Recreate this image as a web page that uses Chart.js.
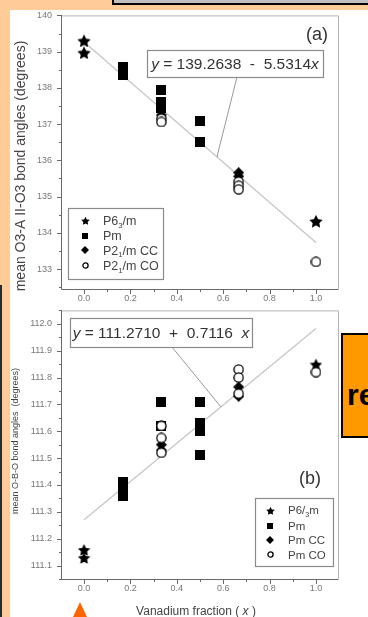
<!DOCTYPE html>
<html>
<head>
<meta charset="utf-8">
<script src="https://cdn.jsdelivr.net/npm/chart.js@4/dist/chart.umd.min.js"></script>
<style>
  html, body { margin: 0; padding: 0; }
  body {
    width: 368px; height: 617px; position: relative; overflow: hidden;
    background: #FFCC99;
    font-family: "Liberation Sans", Arial, Helvetica, sans-serif;
  }
  #sheet { position: absolute; left: 10px; top: 10px; right: 0; bottom: 0; background: #fff; }
  #edge { position: absolute; left: 0; top: 285px; width: 2px; bottom: 0; background: #2a2a2a; }
  #topbar {
    position: absolute; left: 112px; top: -10px; width: 300px; height: 11px;
    background: #c0c0c0; border: 2px solid #000;
  }
  #note {
    position: absolute; left: 341px; top: 333px; width: 60px; height: 101px;
    background: #FF9900; border: 2px solid #000;
  }
  #note span {
    position: absolute; left: 4px; top: 45px;
    font-weight: bold; font-size: 30px; line-height: 30px; color: #000;
  }
  #tri {
    position: absolute; left: 73px; top: 602px; width: 0; height: 0;
    border-left: 7px solid transparent; border-right: 7px solid transparent;
    border-bottom: 15px solid #FF6600;
  }
  canvas { position: absolute; left: 0; }
  #chartA { top: 0; }
  #chartB { top: 295px; }
</style>
</head>
<body>
<div id="sheet"></div>
<div id="edge"></div>
<canvas id="chartA" width="368" height="305"></canvas>
<canvas id="chartB" width="368" height="322"></canvas>
<div id="note"><span>re</span></div>
<div id="topbar"></div>
<div id="tri"></div>

<script>
// ---------------- data ----------------
const xTickValues = [0, 0.2, 0.4, 0.6, 0.8, 1.0];
const xMinorValues = [0.1, 0.3, 0.5, 0.7, 0.9];

// Panel (a): mean O3-A II-O3 bond angles (degrees)
const yTicksA = [133, 134, 135, 136, 137, 138, 139, 140];
const yMinorA = [132.5, 133.5, 134.5, 135.5, 136.5, 137.5, 138.5, 139.5];
const starA_x = [0, 0, 1];
const starA_y = [139.31, 138.98, 134.33];
const pmA_x = [1/6, 1/6, 1/6, 1/3, 1/3, 1/3, 0.5, 0.5];
const pmA_y = [138.58, 138.47, 138.36, 137.93, 137.60, 137.44, 137.08, 136.51];
const ccA_x = [1/3, 2/3, 2/3];
const ccA_y = [137.25, 135.66, 135.56];
const coA_x = [1/3, 1/3, 2/3, 2/3, 2/3, 1];
const coA_y = [137.15, 137.06, 135.41, 135.30, 135.20, 133.20];
const fitA = [139.2638, -5.5314];

// Panel (b): mean O-B-O bond angles (degrees)
const yTicksB = [111.1, 111.2, 111.3, 111.4, 111.5, 111.6, 111.7, 111.8, 111.9, 112.0];
const yMinorB = [111.05, 111.15, 111.25, 111.35, 111.45, 111.55, 111.65, 111.75, 111.85, 111.95, 112.05];
const starB_x = [0, 0, 1];
const starB_y = [111.16, 111.13, 111.85];
const pmB_x = [1/6, 1/6, 1/6, 1/3, 1/3, 0.5, 0.5, 0.5, 0.5];
const pmB_y = [111.41, 111.38, 111.36, 111.71, 111.62, 111.71, 111.63, 111.60, 111.51];
const ccB_x = [1/3, 1/3, 2/3, 2/3];
const ccB_y = [111.55, 111.53, 111.765, 111.73];
const coB_x = [1/3, 1/3, 1/3, 2/3, 2/3, 2/3, 1];
const coB_y = [111.62, 111.575, 111.52, 111.83, 111.80, 111.74, 111.82];
const fitB = [111.2710, 0.7116];

// ---------------- helpers ----------------
const FONT = '"Liberation Sans", Arial, Helvetica, sans-serif';

function pts(xs, ys) { return xs.map((x, i) => ({ x: x, y: ys[i] })); }
function fitLine(c) { return [{ x: 0, y: c[0] }, { x: 1, y: c[0] + c[1] }]; }

// marker sprites: filled star, filled square, filled diamond, open circle
function marker(kind, s) {
  const c = document.createElement('canvas');
  c.width = s; c.height = s;
  const g = c.getContext('2d');
  const m = s / 2;
  g.fillStyle = '#000'; g.strokeStyle = '#000';
  if (kind === 'star') {
    const R = s / 2, r = R * 0.5;
    g.beginPath();
    for (let i = 0; i < 10; i++) {
      const ang = -Math.PI / 2 + i * Math.PI / 5;
      const rr = i % 2 ? r : R;
      g.lineTo(m + rr * Math.cos(ang), m + 0.08 * s + rr * Math.sin(ang));
    }
    g.closePath(); g.fill();
  } else if (kind === 'square') {
    g.fillRect(0, 0, s, s);
  } else if (kind === 'diamond') {
    g.beginPath(); g.moveTo(m, 0); g.lineTo(s, m); g.lineTo(m, s); g.lineTo(0, m); g.closePath(); g.fill();
  } else {
    g.beginPath(); g.arc(m, m, m - 0.9, 0, Math.PI * 2);
    g.fillStyle = '#fff'; g.fill();
    g.lineWidth = 1.3; g.stroke();
  }
  return c;
}

const mk = {
  starA: marker('star', 14), squareA: marker('square', 10), diamondA: marker('diamond', 11), circleA: marker('circle', 11),
  starB: marker('star', 13), squareB: marker('square', 10), diamondB: marker('diamond', 11), circleB: marker('circle', 11),
  starL: marker('star', 9), squareL: marker('square', 6), diamondL: marker('diamond', 8), circleL: marker('circle', 7)
};

function setFont(ctx, size, italic, bold) {
  ctx.font = (italic ? 'italic ' : '') + (bold ? 'bold ' : '') + size + 'px ' + FONT;
}
function richWidth(ctx, segs, size) {
  let w = 0;
  for (const s of segs) { setFont(ctx, s.sub ? size * 0.62 : size, s.it); w += ctx.measureText(s.t).width; }
  return w;
}
// draws mixed italic / subscript text, vertically centred on y
function drawRich(ctx, segs, x, y, size, color, align) {
  const w = richWidth(ctx, segs, size);
  let cx = align === 'center' ? x - w / 2 : x;
  const base = y + size * 0.36;
  ctx.fillStyle = color; ctx.textAlign = 'left'; ctx.textBaseline = 'alphabetic';
  for (const s of segs) {
    const fs = s.sub ? size * 0.62 : size;
    setFont(ctx, fs, s.it);
    ctx.fillText(s.t, cx, s.sub ? base + size * 0.22 : base);
    cx += ctx.measureText(s.t).width;
  }
}

function fmtCoef(v) { return Math.abs(v).toFixed(4); }

// frame, tick marks, fit-equation box, legend, panel tag and axis titles
const decorations = {
  id: 'decorations',
  afterDatasetsDraw(chart, args, o) {
    const { ctx, chartArea: a } = chart;
    const xs = chart.scales.x, ys = chart.scales.y;
    ctx.save();
    ctx.lineWidth = 1;

    // plot frame
    ctx.strokeStyle = '#b4b4b4';
    ctx.beginPath();
    ctx.moveTo(a.left, a.top + 0.5); ctx.lineTo(a.right + 0.5, a.top + 0.5); ctx.lineTo(a.right + 0.5, a.bottom);
    ctx.stroke();
    ctx.strokeStyle = '#6a6a6a';
    ctx.beginPath();
    ctx.moveTo(a.left - 0.5, a.top); ctx.lineTo(a.left - 0.5, a.bottom + 0.5); ctx.lineTo(a.right + 0.5, a.bottom + 0.5);
    ctx.stroke();

    // tick marks (outside)
    ctx.beginPath();
    const xt = (v, len) => { const p = Math.round(xs.getPixelForValue(v)) + 0.5; ctx.moveTo(p, a.bottom); ctx.lineTo(p, a.bottom + len); };
    const yt = (v, len) => { const p = Math.round(ys.getPixelForValue(v)) + 0.5; ctx.moveTo(a.left, p); ctx.lineTo(a.left - len, p); };
    xTickValues.forEach(v => xt(v, 5));
    xMinorValues.forEach(v => xt(v, 3));
    o.yMajor.forEach(v => yt(v, 5));
    o.yMinor.forEach(v => { if (v >= ys.min && v <= ys.max) yt(v, 3); });
    ctx.stroke();

    // leader from the equation box to the fitted line
    const e = o.eq;
    const lx = xs.getPixelForValue(e.anchor);
    const ly = ys.getPixelForValue(o.fit[0] + o.fit[1] * e.anchor);
    ctx.strokeStyle = '#8c8c8c'; ctx.lineWidth = 0.9;
    ctx.beginPath(); ctx.moveTo(e.fromX, e.y + e.h); ctx.lineTo(lx, ly); ctx.stroke();

    // equation box
    ctx.fillStyle = '#fff'; ctx.strokeStyle = '#8a8a8a'; ctx.lineWidth = 1.2;
    ctx.fillRect(e.x, e.y, e.w, e.h);
    ctx.strokeRect(e.x + 0.5, e.y + 0.5, e.w, e.h);
    drawRich(ctx, e.segs, e.x + e.w / 2, e.y + e.h / 2, e.size, '#333', 'center');

    // legend
    const L = o.legend;
    ctx.fillStyle = '#fff'; ctx.strokeStyle = '#8a8a8a'; ctx.lineWidth = 1.2;
    ctx.fillRect(L.x, L.y, L.w, L.h);
    ctx.strokeRect(L.x + 0.5, L.y + 0.5, L.w, L.h);
    L.rows.forEach((row, i) => {
      const s = row.sym, cy = L.rowY[i];
      ctx.drawImage(s, Math.round(L.symX - s.width / 2), Math.round(cy - s.height / 2));
      drawRich(ctx, row.segs, L.textX, cy, L.size, '#444', 'left');
    });

    // panel tag
    drawRich(ctx, [{ t: o.tag.text }], o.tag.x, o.tag.y, o.tag.size, '#333', 'center');

    // axis titles
    ctx.save();
    ctx.translate(o.yTitle.x, o.yTitle.y);
    ctx.rotate(-Math.PI / 2);
    drawRich(ctx, o.yTitle.segs, 0, 0, o.yTitle.size, '#444', 'center');
    ctx.restore();
    if (o.xTitle) drawRich(ctx, o.xTitle.segs, o.xTitle.x, o.xTitle.y, o.xTitle.size, '#444', 'center');

    ctx.restore();
  }
};

function makeChart(id, cfg) {
  const datasets = [
    { label: 'fit', data: fitLine(cfg.fit), showLine: true, borderColor: '#c6c6c6', borderWidth: 1.3,
      pointRadius: 0, order: 5 },
    { label: cfg.names[0], data: cfg.series[0], pointStyle: cfg.syms[0], pointRadius: 6, order: 4 },
    { label: cfg.names[1], data: cfg.series[1], pointStyle: cfg.syms[1], pointRadius: 6, order: 3 },
    { label: cfg.names[2], data: cfg.series[2], pointStyle: cfg.syms[2], pointRadius: 6, order: 2 },
    { label: cfg.names[3], data: cfg.series[3], pointStyle: cfg.syms[3], pointRadius: 6, order: 1 }
  ];
  return new Chart(document.getElementById(id), {
    type: 'scatter',
    data: { datasets },
    plugins: [decorations],
    options: {
      responsive: false, animation: false, devicePixelRatio: 1,
      events: [],
      layout: { autoPadding: false, padding: { left: 0, top: cfg.padTop, right: 30, bottom: 0 } },
      plugins: { legend: { display: false }, tooltip: { enabled: false }, decorations: cfg.deco },
      scales: {
        x: {
          type: 'linear', min: -0.095, max: 1.095,
          grid: { display: false, drawTicks: false }, border: { display: false },
          afterBuildTicks: s => { s.ticks = xTickValues.map(v => ({ value: v })); },
          afterFit: s => { s.height = cfg.xHeight; },
          ticks: { callback: v => v.toFixed(1), font: { family: FONT, size: 9 }, color: '#777',
                   padding: 4, maxRotation: 0, autoSkip: false }
        },
        y: {
          type: 'linear', min: cfg.yMin, max: cfg.yMax,
          grid: { display: false, drawTicks: false }, border: { display: false },
          afterBuildTicks: s => { s.ticks = cfg.yTicks.map(v => ({ value: v })); },
          afterFit: s => { s.width = 62; },
          ticks: { callback: v => v.toFixed(cfg.yDec), font: { family: FONT, size: 9 }, color: '#777',
                   padding: 10, autoSkip: false }
        }
      }
    }
  });
}

// ---------------- panel (a) ----------------
makeChart('chartA', {
  fit: fitA, padTop: 15, xHeight: 16, yMin: 132.45, yMax: 140, yTicks: yTicksA, yDec: 0,
  names: ['P6\u2083/m', 'Pm', 'P2\u2081/m CC', 'P2\u2081/m CO'],
  series: [pts(starA_x, starA_y), pts(pmA_x, pmA_y), pts(ccA_x, ccA_y), pts(coA_x, coA_y)],
  syms: [mk.starA, mk.squareA, mk.diamondA, mk.circleA],
  deco: {
    fit: fitA, yMajor: yTicksA, yMinor: yMinorA,
    eq: { x: 147, y: 50, w: 176, h: 27, size: 15.5, anchor: 0.573, fromX: 237,
          segs: [{ t: 'y', it: true }, { t: ' = ' + fitA[0].toFixed(4) + '  ' + (fitA[1] < 0 ? '-' : '+') + '  ' + fmtCoef(fitA[1]) }, { t: 'x', it: true }] },
    legend: { x: 68, y: 208, w: 95, h: 71, symX: 85, textX: 103, size: 12.5,
              rowY: [220.5, 235.5, 250, 265.5],
              rows: [
                { sym: mk.starL, segs: [{ t: 'P6' }, { t: '3', sub: true }, { t: '/m' }] },
                { sym: mk.squareL, segs: [{ t: 'Pm' }] },
                { sym: mk.diamondL, segs: [{ t: 'P2' }, { t: '1', sub: true }, { t: '/m CC' }] },
                { sym: mk.circleL, segs: [{ t: 'P2' }, { t: '1', sub: true }, { t: '/m CO' }] }
              ] },
    tag: { text: '(a)', x: 317, y: 34, size: 18 },
    yTitle: { x: 20, y: 166, size: 14, segs: [{ t: 'mean O3-A II-O3 bond angles (degrees)' }] },
    xTitle: null
  }
});

// ---------------- panel (b) ----------------
makeChart('chartB', {
  fit: fitB, padTop: 11, xHeight: 38, yMin: 111.05, yMax: 112.05, yTicks: yTicksB, yDec: 1,
  names: ['P6/\u2083m', 'Pm', 'Pm CC', 'Pm CO'],
  series: [pts(starB_x, starB_y), pts(pmB_x, pmB_y), pts(ccB_x, ccB_y), pts(coB_x, coB_y)],
  syms: [mk.starB, mk.squareB, mk.diamondB, mk.circleB],
  deco: {
    fit: fitB, yMajor: yTicksB, yMinor: yMinorB,
    eq: { x: 70, y: 23, w: 182, h: 29, size: 15.5, anchor: 0.59, fromX: 172,
          segs: [{ t: 'y', it: true }, { t: ' = ' + fitB[0].toFixed(4) + '  ' + (fitB[1] < 0 ? '-' : '+') + '  ' + fmtCoef(fitB[1]) + '  ' }, { t: 'x', it: true }] },
    legend: { x: 255, y: 203, w: 78, h: 68, symX: 270, textX: 288, size: 11.5,
              rowY: [215, 231, 245, 259.5],
              rows: [
                { sym: mk.starL, segs: [{ t: 'P6/' }, { t: '3', sub: true }, { t: 'm' }] },
                { sym: mk.squareL, segs: [{ t: 'Pm' }] },
                { sym: mk.diamondL, segs: [{ t: 'Pm CC' }] },
                { sym: mk.circleL, segs: [{ t: 'Pm CO' }] }
              ] },
    tag: { text: '(b)', x: 310, y: 183, size: 18 },
    yTitle: { x: 15, y: 146, size: 9, segs: [{ t: 'mean O-B-O bond angles  (degrees)' }] },
    xTitle: { x: 196, y: 316, size: 12, segs: [{ t: 'Vanadium fraction ( ' }, { t: 'x', it: true }, { t: ' )' }] }
  }
});
</script>
</body>
</html>
